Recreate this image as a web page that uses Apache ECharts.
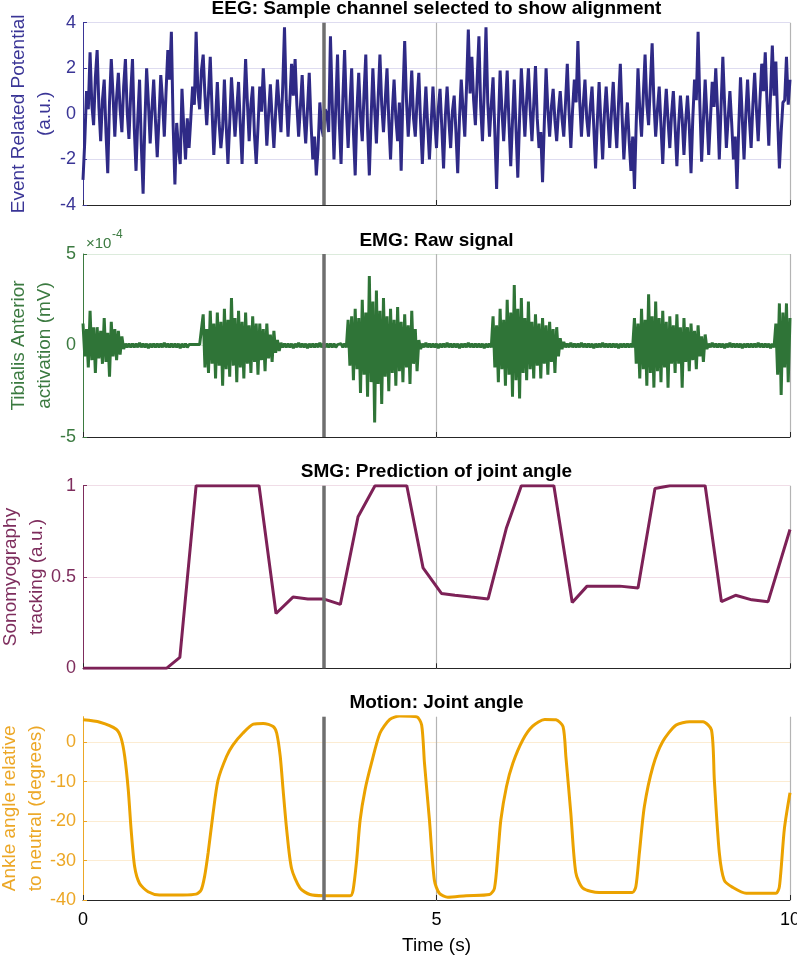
<!DOCTYPE html>
<html>
<head>
<meta charset="utf-8">
<script src="https://cdn.jsdelivr.net/npm/echarts@6/dist/echarts.min.js"></script>
<style>
html, body { margin: 0; padding: 0; background: #fff; }
#chart { width: 797px; height: 956px; }
</style>
</head>
<body>
<div id="chart"></div>
<script>
// sample spacing of the EEG / EMG traces (s)
var sampleStep = 0.025;

var eegValues = [
    -2.9, -1.2, 1.0, 0.2, 2.7, 0.4, -0.5, 1.6, 2.8, 0.3, -1.2, 0.6, 1.5, -0.8, -2.6, 0.5, 2.4, 0.8, -1.0, 0.7,
    1.8, 0.2, -0.8, 1.2, 2.4, 0.1, -1.1, 0.9, 2.4, -0.6, -2.5, -0.2, 1.5, -1.4, -3.5, -0.4, 2.0, 0.5, -1.3, 0.2,
    1.5, -0.3, -1.9, -0.2, 1.7, 0.6, -1.0, 1.0, 2.8, 1.5, 3.6, -0.5, -3.1, -0.4, -1.5, -2.2, 1.1, -0.6, -2.0, -0.2,
    -1.5, -0.2, 1.2, 0.4, 3.6, 1.0, 0.2, 1.9, 2.6, 0.8, -0.5, 0.9, 2.5, 0.2, -1.8, -0.3, 1.4, -0.4, -1.5, -0.6,
    1.5, -0.5, -2.2, -0.4, 1.6, 0.3, -1.0, 0.2, 1.4, -0.5, -2.2, 0.3, 2.4, 0.5, -1.2, 0.4, 1.2, -0.9, -2.2, -0.6,
    1.2, 0.1, 2.0, 0.4, -1.4, 0.0, 1.3, -0.2, -1.5, 0.1, 1.5, 0.3, -0.8, 1.2, 3.8, 0.6, -1.0, 0.5, 2.2, 0.8,
    2.4, 0.4, -1.0, 0.3, 1.7, -0.1, -1.3, 0.2, 1.8, -0.4, -2.0, -1.0, -2.7, -1.5, 0.5, -0.6, -1.0, 0.2, 0.0, -0.8,
    3.4, 0.5, -2.0, 0.3, 2.6, -0.4, -2.2, 0.6, 2.8, 0.2, -1.5, 0.3, 2.0, -0.8, -2.7, 0.2, 1.8, -0.1, -1.2, 0.9,
    2.6, -0.6, -2.7, -0.2, 2.0, 0.2, -1.3, 0.7, 2.6, 0.4, -0.8, 0.6, 2.0, -0.3, -2.0, 0.1, 1.5, -0.2, -1.2, 0.5,
    -2.5, 0.8, 3.2, 0.6, -1.0, 0.3, 1.9, -0.2, -1.0, 0.6, 1.8, -0.4, -2.2, -0.3, 1.2, -0.5, -2.0, -0.4, 1.2, -0.3,
    -1.5, 0.2, 1.1, -0.6, -2.4, -0.1, 1.2, -0.3, -1.5, 0.1, 0.8, -0.8, -2.6, -0.2, 1.5, 0.2, -1.0, 1.2, 3.7, 0.9,
    2.5, 0.6, -0.5, 1.5, 3.4, 0.3, -1.2, 1.0, 3.8, 0.5, -1.0, 0.4, 1.6, -0.8, -3.3, -0.5, 1.9, 0.2, -1.2, 0.3,
    1.9, -0.4, -2.3, -0.3, 1.5, -0.7, -2.8, -0.2, 2.0, 0.5, -1.0, 0.6, 2.0, 0.2, -1.2, 0.4, 2.1, -0.2, -1.5, -0.8,
    -3.0, -0.4, 2.0, 0.2, -1.0, 0.3, 1.1, -0.3, -1.2, 0.1, 1.0, -0.2, -1.0, 0.5, 2.2, 0.1, -1.5, 0.2, 1.5, 0.5,
    3.2, 0.6, -1.0, 0.4, 1.5, -0.2, -1.0, 0.3, 1.2, -0.6, -2.4, -0.3, 1.4, -0.4, -2.0, 0.0, 1.2, -0.2, -1.5, 0.1,
    1.4, -0.3, -1.5, 0.5, 2.2, -0.1, -2.0, -0.6, 0.5, -1.2, -2.5, -1.0, -3.3, -0.4, 2.0, 0.2, -1.0, 0.8, 2.6, 0.4,
    -0.5, 1.3, 3.1, 0.5, -1.0, 0.2, 1.2, -0.5, -2.2, -0.2, 1.1, -0.3, -1.5, 0.0, 1.0, -0.6, -2.3, -0.5, 0.8, -0.2,
    -1.8, -0.3, 0.8, -0.5, -2.6, -0.2, 1.5, 0.6, 3.6, 0.4, -2.1, -0.3, 1.5, -0.1, -1.8, -0.2, 1.4, 0.3, 2.0, 0.2,
    -2.0, 0.3, 2.5, 0.4, -1.5, -0.2, 1.0, -0.4, -2.0, -1.0, -3.3, -0.6, 1.6, -0.2, -2.0, 0.0, 1.5, -0.2, -1.5, 0.4,
    1.8, 0.2, -1.2, 0.6, 2.2, 1.0, 2.7, 0.5, -1.4, 0.9, 3.0, 0.8, 2.3, -0.2, -2.4, -0.8, 0.5, 0.6, 2.5, 0.4,
    1.5
];

// EMG in units of 1e-4 mV
var emgValues = [
    1.2, -0.6, 0.9, -1.2, 1.9, -0.8, 1.0, -1.5, 1.0, -0.7, 0.8, -1.0, 1.5, -0.9, 0.7, -1.7, 1.3, -0.6, 0.9, -0.8,
    0.8, -0.5, 0.5, -0.2, 0.1, -0.1, 0.1, -0.1, 0.1, -0.1, 0.1, -0.1, 0.15, -0.1, 0.1, -0.1, 0.1, -0.15, 0.1, -0.1,
    0.1, -0.1, 0.1, -0.1, 0.1, -0.1, 0.15, -0.1, 0.1, -0.1, 0.1, -0.1, 0.1, -0.1, 0.1, -0.15, 0.1, -0.1, 0.1, -0.1,
    0.05, -0.05, 0.05, -0.05, 0.05, -0.05, 0.05, -0.05, 1.7, -1.2, 0.9, -1.5, 1.9, -1.0, 1.2, -1.8, 1.8, -1.1, 1.3, -2.2,
    2.0, -1.3, 1.4, -1.7, 2.6, -1.1, 1.5, -2.0, 1.9, -1.2, 1.3, -1.8, 1.8, -1.0, 1.1, -1.5, 1.6, -0.9, 1.2, -1.6,
    1.2, -0.8, 0.9, -1.4, 1.2, -0.7, 0.6, -0.9, 0.8, -0.4, 0.3, -0.3, 0.15, -0.1, 0.1, -0.1, 0.1, -0.1, 0.1, -0.15,
    0.1, -0.1, 0.15, -0.1, 0.1, -0.1, 0.1, -0.15, 0.1, -0.1, 0.1, -0.1, 0.1, -0.1, 0.15, -0.1, 0.1, -0.1, 0.1, -0.1,
    0.1, -0.1, 0.1, -0.1, 0.05, -0.05, 0.1, -0.1, 0.1, -0.1, 1.4, -1.1, 1.6, -1.9, 2.0, -1.3, 1.5, -2.6, 2.5, -1.6,
    1.8, -2.8, 3.8, -2.0, 2.4, -4.2, 3.0, -2.1, 1.9, -3.2, 2.6, -1.7, 1.6, -2.5, 2.0, -1.5, 1.4, -2.2, 2.1, -1.4,
    1.3, -2.0, 1.7, -1.2, 1.1, -2.1, 1.9, -1.0, 0.9, -1.4, 0.3, -0.2, 0.1, -0.1, 0.15, -0.1, 0.1, -0.1, 0.1, -0.1,
    0.1, -0.15, 0.1, -0.1, 0.1, -0.1, 0.15, -0.1, 0.1, -0.1, 0.1, -0.1, 0.1, -0.15, 0.1, -0.1, 0.1, -0.1, 0.15, -0.1,
    0.1, -0.1, 0.1, -0.1, 0.1, -0.1, 0.1, -0.15, 0.1, -0.1, 0.1, -0.1, 1.6, -1.2, 1.1, -2.0, 2.0, -1.3, 1.4, -2.2,
    2.5, -1.6, 1.8, -2.8, 3.3, -1.9, 2.0, -2.9, 2.6, -1.5, 1.5, -1.9, 2.4, -1.3, 1.3, -1.8, 1.7, -1.1, 1.2, -1.8,
    1.5, -1.0, 1.1, -1.6, 1.3, -0.9, 0.9, -1.5, 1.0, -0.6, 0.4, -0.2, 0.2, -0.1, 0.1, -0.1, 0.15, -0.1, 0.1, -0.1,
    0.1, -0.1, 0.15, -0.1, 0.1, -0.1, 0.1, -0.1, 0.1, -0.15, 0.1, -0.1, 0.1, -0.1, 0.15, -0.1, 0.1, -0.1, 0.1, -0.1,
    0.1, -0.1, 0.1, -0.15, 0.1, -0.1, 0.1, -0.1, 0.1, -0.1, 0.1, -0.1, 1.5, -1.0, 1.2, -1.8, 2.0, -1.3, 1.4, -2.2,
    2.8, -1.5, 1.6, -2.3, 2.4, -1.4, 1.5, -2.0, 1.9, -1.2, 1.3, -2.3, 1.6, -1.0, 1.1, -1.5, 1.7, -1.0, 1.0, -2.3,
    1.5, -0.9, 1.0, -1.4, 1.2, -0.8, 0.8, -1.3, 1.1, -0.6, 0.5, -0.9, 0.6, -0.2, 0.1, -0.1, 0.15, -0.1, 0.1, -0.1,
    0.1, -0.1, 0.1, -0.15, 0.1, -0.1, 0.15, -0.1, 0.1, -0.1, 0.1, -0.1, 0.1, -0.15, 0.1, -0.1, 0.1, -0.1, 0.1, -0.1,
    0.1, -0.1, 0.15, -0.1, 0.1, -0.1, 0.1, -0.1, 0.1, -0.15, 0.1, -0.1, 1.2, -1.6, 2.3, -2.7, 1.8, -1.2, 2.3, -2.0,
    1.5
];

var smgTime = [0, 1.18, 1.37, 1.60, 2.49, 2.73, 2.97, 3.18, 3.40, 3.64, 3.89, 4.13,
    4.58, 4.81, 5.07, 5.26, 5.49, 5.73, 5.99, 6.20, 6.66, 6.92, 7.13, 7.38, 7.59, 7.85,
    8.09, 8.30, 8.80, 9.03, 9.23, 9.46, 9.69, 10.0];
var smgValues = [0, 0, 0.06, 1.0, 1.0, 0.30, 0.39, 0.38, 0.38, 0.35, 0.83, 1.0,
    1.0, 0.55, 0.41, 0.40, 0.39, 0.38, 0.77, 1.0, 1.0, 0.36, 0.45, 0.45, 0.45, 0.44,
    0.985, 1.0, 1.0, 0.365, 0.40, 0.375, 0.365, 0.76];

var motionTime = [0, 0.24, 0.47, 0.54, 0.59, 0.64, 0.68, 0.73, 0.80, 0.92, 1.08, 1.41,
    1.60, 1.67, 1.72, 1.77, 1.84, 1.91, 2.03, 2.12, 2.26, 2.41, 2.55, 2.69, 2.74, 2.79,
    2.83, 2.88, 2.95, 3.07, 3.21, 3.40, 3.78, 3.82, 3.87, 3.92, 3.99, 4.08, 4.20, 4.34,
    4.48, 4.72, 4.79, 4.83, 4.90, 4.97, 5.04, 5.16, 5.42, 5.75, 5.82, 5.87, 5.91, 5.99,
    6.08, 6.22, 6.36, 6.53, 6.69, 6.79, 6.83, 6.90, 6.97, 7.07, 7.30, 7.77, 7.82, 7.87,
    7.94, 8.06, 8.20, 8.39, 8.58, 8.77, 8.89, 8.93, 9.00, 9.07, 9.19, 9.38, 9.80, 9.85,
    9.92, 10.0];
var motionValues = [5.7, 5.1, 3.3, 1.0, -3.6, -12, -22, -31.5, -35.8, -37.9, -38.7, -38.7,
    -38.5, -37.5, -34, -28, -18, -9.6, -3.6, -0.7, 2.3, 4.6, 4.8, 4.0, 2.3, -3.6,
    -12, -22, -32, -37, -38.6, -38.9, -38.9, -37.5, -30, -19.7, -12, -5.3, 2.3, 5.8,
    6.7, 6.5, 4.4, -5.3, -19.7, -35, -38.3, -39.3, -38.9, -38.6, -37, -28, -19.7, -11.2,
    -5.3, 0.6, 4.1, 5.8, 5.7, 4.0, -3.6, -18, -33, -37, -38.1, -38.1, -36.6, -28,
    -16.3, -6.2, 0.2, 4.4, 5.2, 5.2, 3.1, -9.6, -28, -35, -36.8, -38.3, -38.3, -36.6,
    -22, -12.8];

// time of the gray alignment marker (s)
var alignTime = 3.4;

var titles = [
    'EEG: Sample channel selected to show alignment',
    'EMG: Raw signal',
    'SMG: Prediction of joint angle',
    'Motion: Joint angle'
];
var yNames = [
    'Event Related Potential\n(a.u.)',
    'Tibialis Anterior\nactivation (mV)',
    'Sonomyography\ntracking (a.u.)',
    'Ankle angle relative\nto neutral (degrees)'
];

function pairs(xs, ys) {
    return ys.map(function (v, i) { return [xs[i], v]; });
}
function sampled(ys) {
    return ys.map(function (v, i) { return [+(i * sampleStep).toFixed(3), v]; });
}

var font = 'Liberation Sans, Arial, Helvetica, sans-serif';
var lineColors = ['#2f2a86', '#2f7437', '#7d2157', '#eba200'];
var textColors = ['#3a3596', '#3b7a40', '#7e2d5d', '#eca726'];
var gridColors = ['#dedcf0', '#dcebdc', '#f0dde7', '#fcecd2'];
var tops = [22.7, 254, 485.7, 716.7];
var heights = [182.3, 183, 182.6, 183.3];
var nameGaps = [25, 25, 33, 34];
var yRanges = [[-4, 4, 2], [-5, 5, 5], [0, 1, 0.5], [-40, 6.5, 10]];

var dom = document.getElementById('chart');
var myChart = echarts.init(dom);
var option = null;

var grid = [], xAxis = [], yAxis = [], title = [], series = [];
var seriesData = [
    sampled(eegValues),
    sampled(emgValues),
    pairs(smgTime, smgValues),
    pairs(motionTime, motionValues)
];

for (var i = 0; i < 4; i++) {
    var last = (i === 3);
    grid.push({
        left: 83, top: tops[i], width: 707, height: heights[i],
        containLabel: false, outerBoundsMode: 'none'
    });
    title.push({
        text: titles[i],
        left: 436.5,
        textAlign: 'center',
        top: tops[i] - 23,
        padding: 0,
        textStyle: { fontFamily: font, fontSize: 19, fontWeight: 'bold', color: '#000' }
    });
    xAxis.push({
        type: 'value',
        gridIndex: i,
        min: 0,
        max: 10,
        interval: 5,
        name: last ? 'Time (s)' : '',
        nameLocation: 'middle',
        nameGap: 36,
        nameMoveOverlap: false,
        nameTextStyle: { fontFamily: font, fontSize: 19, color: '#000' },
        axisLine: { onZero: false, lineStyle: { color: '#262626', width: 1 } },
        axisTick: { show: true, inside: true, length: 5, lineStyle: { color: '#262626' } },
        axisLabel: { show: last, margin: 11, fontFamily: font, fontSize: 18, color: '#000' },
        splitLine: { show: true, showMinLine: false, lineStyle: { color: '#b4b4b4', width: 1.2 } }
    });
    yAxis.push({
        type: 'value',
        gridIndex: i,
        min: yRanges[i][0],
        max: yRanges[i][1],
        interval: yRanges[i][2],
        name: yNames[i],
        nameLocation: 'middle',
        nameRotate: 90,
        nameGap: nameGaps[i],
        nameMoveOverlap: false,
        nameTextStyle: { fontFamily: font, fontSize: 19, color: textColors[i], lineHeight: 26 },
        axisLine: { show: true, lineStyle: { color: textColors[i], width: 1 } },
        axisTick: { show: true, inside: true, length: 4, lineStyle: { color: textColors[i] } },
        axisLabel: { margin: 7, fontFamily: font, fontSize: 18, color: textColors[i], showMaxLabel: !last },
        splitLine: { show: true, showMinLine: false, showMaxLine: !last, lineStyle: { color: gridColors[i], width: 1 } }
    });
    series.push({
        type: 'line',
        xAxisIndex: i,
        yAxisIndex: i,
        data: seriesData[i],
        showSymbol: false,
        symbol: 'none',
        smooth: last ? 0.25 : false,
        lineStyle: { color: lineColors[i], width: 3 },
        markLine: {
            silent: true,
            symbol: ['none', 'none'],
            label: { show: false },
            lineStyle: { color: '#6f6f6f', width: 3.5, type: 'solid' },
            data: [{ xAxis: alignTime }]
        }
    });
}

option = {
    backgroundColor: '#fff',
    animation: false,
    title: title,
    grid: grid,
    xAxis: xAxis,
    yAxis: yAxis,
    series: series,
    graphic: [
        { type: 'text', left: 86, top: 236, style: { text: '\u00d710', fontFamily: font, fontSize: 15, fill: textColors[1] } },
        { type: 'text', left: 112, top: 229, style: { text: '-4', fontFamily: font, fontSize: 12, fill: textColors[1] } }
    ]
};

if (option && typeof option === 'object') {
    myChart.setOption(option, true);
}
</script>
</body>
</html>
